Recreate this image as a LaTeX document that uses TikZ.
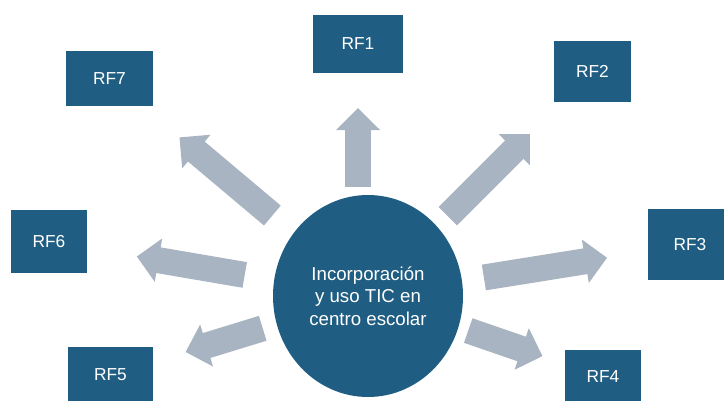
\documentclass[tikz,border=0pt]{standalone}
\usepackage{fontspec}
\setmainfont{Liberation Sans}
\usetikzlibrary{arrows.meta,shapes.geometric}
\definecolor{boxblue}{HTML}{1F5E82}
\definecolor{arrowgray}{HTML}{A9B4C2}
\begin{document}
\begin{tikzpicture}[x=0.75pt,y=-0.75pt]
		\tikzstyle{rfbox}=[rectangle,fill=boxblue,text=white,font=\fontsize{13}{15}\selectfont,inner sep=0pt]
		\tikzstyle{hub}=[ellipse,fill=boxblue,text=white,align=center,inner sep=0pt,minimum width=142.5pt,minimum height=151.5pt,font=\fontsize{14}{17}\selectfont]
		\tikzstyle{bigarrow}=[draw=arrowgray,line width=19.5pt,-{Triangle[width=32pt,length=16.5pt]}]
	\clip (0,0) rectangle (724,400);
	\node[hub] (circ) at (368,296) {Incorporación\\y uso TIC en\\centro escolar};
	\node[rfbox,minimum width=68pt,minimum height=43.5pt] (rf1) at (358,44) {RF1};
	\node[rfbox,minimum width=58pt,minimum height=46pt] (rf2) at (592.5,71.5) {RF2};
	\node[rfbox,minimum width=63pt,minimum height=53pt] (rf3) at (690,244.5) {RF3};
	\node[rfbox,minimum width=57pt,minimum height=40.5pt] (rf4) at (603,377) {RF4};
	\node[rfbox,minimum width=64pt,minimum height=42pt] (rf5) at (110.5,375) {RF5};
	\node[rfbox,minimum width=57pt,minimum height=47pt] (rf6) at (49,241.5) {RF6};
	\node[rfbox,minimum width=65pt,minimum height=41pt] (rf7) at (109.5,78.5) {RF7};
	% the upward arrow stands straight under RF1
	\draw[bigarrow,shorten <=82pt,shorten >=48pt] (rf1.center |- circ.center) -- (rf1.center);
	\foreach \n/\a/\b in {rf2/84.6/66.4,rf3/88/63,rf4/79.5/48,rf5/82.6/58.9,rf6/93.8/66.8,rf7/93.75/68.6}{
		\draw[bigarrow,shorten <=\a pt,shorten >=\b pt] (circ.center) -- (\n.center);
	}
\end{tikzpicture}
\end{document}
